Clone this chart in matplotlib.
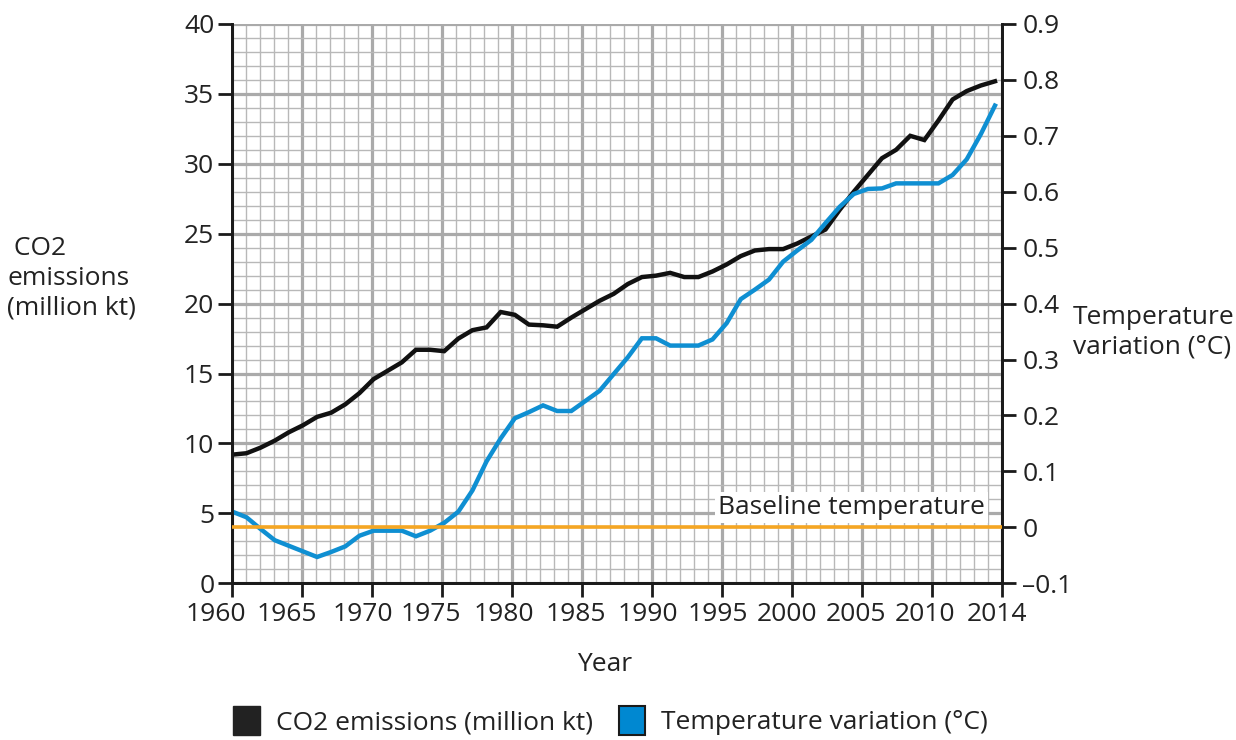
import matplotlib.pyplot as plt
import matplotlib as mpl
from matplotlib.patches import Patch
from matplotlib.transforms import ScaledTranslation
import numpy as np

mpl.rcParams['font.family'] = ['Open Sans', 'DejaVu Sans']
mpl.rcParams['font.size'] = 19

# Data
years = np.arange(1960, 2015)
co2 = [9.2, 9.3, 9.7, 10.2, 10.8, 11.3, 11.9, 12.2, 12.8, 13.6,
       14.6, 15.2, 15.8, 16.7, 16.7, 16.6, 17.5, 18.1, 18.3, 19.4,
       19.2, 18.5, 18.45, 18.35, 19.0, 19.6, 20.2, 20.7, 21.4, 21.9,
       22.0, 22.2, 21.9, 21.9, 22.3, 22.8, 23.4, 23.8, 23.9, 23.9,
       24.3, 24.8, 25.3, 26.7, 28.0, 29.2, 30.4, 31.0, 32.0, 31.7,
       33.1, 34.6, 35.2, 35.6, 35.9]
temp = [0.028, 0.018, -0.003, -0.023, -0.033, -0.043, -0.053, -0.044, -0.034, -0.015,
        -0.006, -0.006, -0.006, -0.016, -0.006, 0.008, 0.028, 0.066, 0.118, 0.159,
        0.195, 0.206, 0.218, 0.208, 0.208, 0.226, 0.244, 0.274, 0.304, 0.338,
        0.338, 0.325, 0.325, 0.325, 0.336, 0.365, 0.408, 0.425, 0.443, 0.475,
        0.495, 0.514, 0.544, 0.573, 0.596, 0.605, 0.606, 0.615, 0.615, 0.615,
        0.615, 0.63, 0.658, 0.703, 0.754]
xtick_labels = ['1960', '1965', '1970', '1975', '1980', '1985', '1990',
                '1995', '2000', '2005', '2010', '2014']
left_ticks = np.arange(0, 41, 5)
right_ticks = np.round(np.arange(-0.1, 0.91, 0.1), 1)
right_labels = ['\u20130.1', '0', '0.1', '0.2', '0.3', '0.4', '0.5', '0.6', '0.7', '0.8', '0.9']

# axis runs a little past the last data year (11 equal label intervals)
xmax = 1960 + 54 * 769.4 / 762.7
xticks = np.linspace(1960, xmax, 12)
# year labels in the original sit a bit left of their ticks (pixels)
label_shift = [-17, -15, -9, -11, -8, -6, -4, -4, -5, -6, -7, -5]

fig = plt.figure(figsize=(12.36, 7.4), dpi=100)
ax = fig.add_axes([0.188, 0.2118, 0.6224, 0.7558])
ax2 = ax.twinx()

ax.set_xlim(1960, xmax)
ax.set_ylim(0, 40)
ax2.set_ylim(-0.1, 0.9)

ax.set_xticks(xticks)
ax.set_xticklabels([])
ax.set_xticks(np.linspace(1960, xmax, 56), minor=True)
ax.set_yticks(left_ticks)
ax.set_yticks(np.arange(0, 41, 1), minor=True)
ax2.set_yticks(right_ticks)
ax2.set_yticklabels(right_labels)

for x, lab, dx in zip(xticks, xtick_labels, label_shift):
    off = ScaledTranslation(dx / 100, -31 / 100, fig.dpi_scale_trans)
    ax.text(x, 0, lab, transform=ax.get_xaxis_transform() + off,
            ha='center', va='center', color='#222222', clip_on=False)

ax.grid(which='major', color='#aaaaaa', lw=2.3)
ax.grid(which='minor', color='#b8b8b8', lw=1.0)
ax.set_axisbelow(True)

for a in (ax, ax2):
    a.spines['top'].set_visible(False)
    for s in ('left', 'bottom', 'right'):
        a.spines[s].set_linewidth(2)
        a.spines[s].set_color('#1a1a1a')
ax.tick_params(which='major', length=10, width=2, color='#1a1a1a', pad=3, labelcolor='#222222')
ax.tick_params(which='minor', length=0)
ax2.tick_params(which='major', length=10, width=2, color='#1a1a1a', pad=5, labelcolor='#222222')

ax.plot(years, co2, color='#111111', lw=3.2, solid_joinstyle='miter', zorder=3)
ax2.plot(years, temp, color='#0f8fd2', lw=3.2, solid_joinstyle='miter', zorder=2)
ax2.axhline(0, color='#f5a623', lw=2.6, zorder=3)

ax2.text(2013.3, 0.035, 'Baseline temperature', ha='right', va='center', color='#222222',
         bbox=dict(facecolor='white', edgecolor='none', pad=2), zorder=4)

fig.text(0.006, 0.624, ' CO2\nemissions\n(million kt)', ha='left', va='center',
         linespacing=1.25, color='#222222')
fig.text(0.868, 0.551, 'Temperature\nvariation (\u00b0C)', ha='left', va='center',
         linespacing=1.25, color='#222222')
fig.text(0.4895, 0.1014, 'Year', ha='center', va='center', color='#222222')

handles = [Patch(facecolor='#222222', edgecolor='#222222', label='CO2 emissions (million kt)'),
           Patch(facecolor='#0088d1', edgecolor='#1a1a1a', lw=1.5, label='Temperature variation (\u00b0C)')]
fig.legend(handles=handles, loc='center', bbox_to_anchor=(0.494, 0.026), ncol=2, frameon=False,
           handlelength=1.0, handleheight=1.3, handletextpad=0.6, columnspacing=1.0,
           labelcolor='#222222')

fig.savefig('out.png', dpi=100)
